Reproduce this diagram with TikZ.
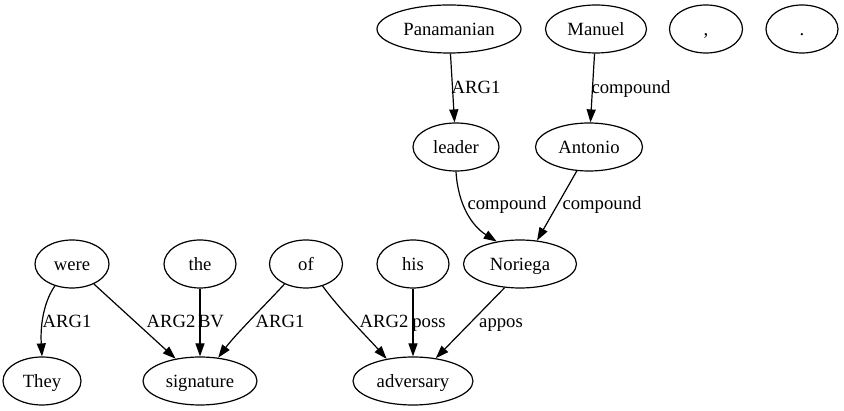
\documentclass[tikz,border=0pt]{standalone}
\usepackage{fontspec}
\setmainfont{Liberation Serif}
\usetikzlibrary{shapes.geometric,arrows.meta}
\begin{document}
\begin{tikzpicture}[x=1pt,y=-1pt,
  tok/.style={draw, ellipse, line width=1.2pt, inner sep=0pt, minimum height=48pt,
    text height=12.6pt, text depth=0pt, font=\fontsize{18.67}{22}\selectfont},
  lab/.style={inner sep=0pt, anchor=base, font=\fontsize{18.67}{22}\selectfont},
  edge/.style={line width=1.2pt, -{Triangle[length=13pt,width=9pt]}}]
\useasboundingbox (0,0) rectangle (844,411);
% nodes
\node[tok, minimum width=144pt] (panamanian) at (449,29) {Panamanian};
\node[tok, minimum width=101pt] (manuel) at (596,29) {Manuel};
\node[tok, minimum width=73pt] (comma) at (706,29) {,};
\node[tok, minimum width=72pt] (period) at (802,29) {.};
\node[tok, minimum width=86pt] (leader) at (456,147) {leader};
\node[tok, minimum width=107pt] (antonio) at (589,147) {Antonio};
\node[tok, minimum width=113pt] (noriega) at (520,264) {Noriega};
\node[tok, minimum width=74pt] (were) at (72,264) {were};
\node[tok, minimum width=72pt] (the) at (200,264) {the};
\node[tok, minimum width=73pt] (of) at (306,264) {of};
\node[tok, minimum width=72pt] (his) at (413,264) {his};
\node[tok, minimum width=78pt] (they) at (42,381) {They};
\node[tok, minimum width=114pt] (signature) at (200,381) {signature};
\node[tok, minimum width=120pt] (adversary) at (413,381) {adversary};
% edges
\draw[edge] (panamanian) -- (leader);
\draw[edge] (manuel) -- (antonio);
\draw[edge] (leader.south) .. controls (458,205) and (472,226) .. (noriega.136);
\draw[edge] (antonio.-117) -- (noriega.54);
\draw[edge] (were.-128) .. controls (45,300) and (40,322) .. (they.north);
\draw[edge] (were) -- (signature);
\draw[edge] (the) -- (signature);
\draw[edge] (of.-137) .. controls (268,302) and (235,335) .. (signature.52);
\draw[edge] (of.-53) .. controls (340,310) and (370,340) .. (adversary.140);
\draw[edge] (his) -- (adversary);
\draw[edge] (noriega.-123) -- (adversary.45);
% labels
\node[lab] (l1) at (476,94) {ARG1};
\node[lab] (l2) at (631,94) {compound};
\node[lab] (l3) at (507,210) {compound};
\node[lab] (l4) at (602,210) {compound};
\node[lab] (l5) at (67,328) {ARG1};
\node[lab] (l6) at (171,328) {ARG2};
\node[lab] (l7) at (211,328) {BV};
\node[lab] (l8) at (280,328) {ARG1};
\node[lab] (l9) at (384,328) {ARG2};
\node[lab] (l10) at (429,328) {poss};
\node[lab] (l11) at (501,328) {appos};
\end{tikzpicture}
\end{document}
